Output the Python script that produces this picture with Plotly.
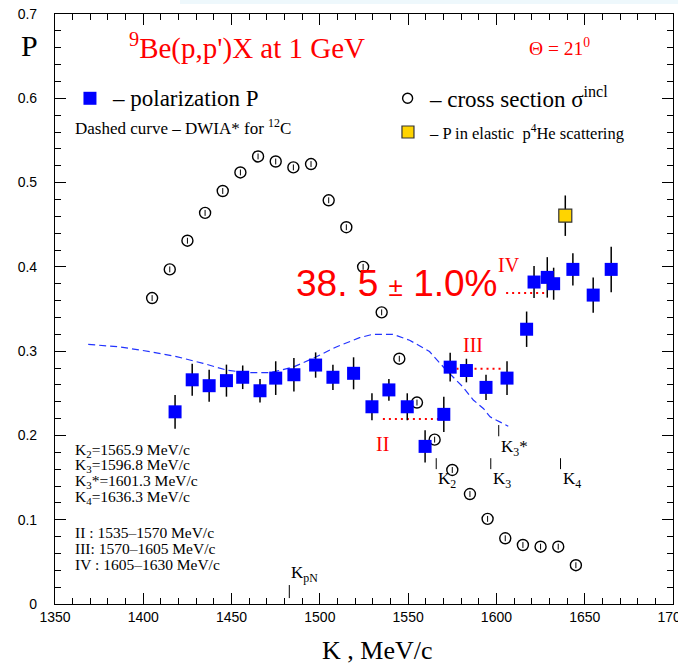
import plotly.graph_objects as go

# ---------------- data ----------------
# polarization P (blue squares)
pol_K = [1418.0, 1427.7, 1437.3, 1447.1, 1456.3, 1466.1, 1475.0, 1485.3, 1497.6, 1507.4,
         1519.1, 1529.5, 1539.1, 1549.5, 1559.6, 1570.2, 1573.8, 1583.0, 1594.1, 1606.0,
         1617.1, 1621.3, 1628.8, 1632.4, 1643.3, 1654.8, 1665.0]
pol_P = [0.228, 0.266, 0.259, 0.265, 0.269, 0.253, 0.268, 0.272, 0.2835, 0.269,
         0.2737, 0.234, 0.254, 0.234, 0.187, 0.225, 0.281, 0.277, 0.257, 0.268,
         0.326, 0.382, 0.3875, 0.380, 0.397, 0.3665, 0.397]
pol_err = [0.020, 0.019, 0.019, 0.019, 0.014, 0.014, 0.020, 0.020, 0.015, 0.015,
           0.019, 0.016, 0.013, 0.016, 0.019, 0.021, 0.017, 0.014, 0.015, 0.020,
           0.021, 0.019, 0.024, 0.019, 0.019, 0.021, 0.027]

# inclusive cross section (open circles, arbitrary units)
cs_K = [1405, 1415, 1425, 1435, 1445, 1455, 1465, 1475, 1485, 1495, 1505, 1515, 1524.5,
        1535, 1545, 1555, 1565, 1575, 1585, 1595, 1605, 1615, 1625, 1635, 1645]
cs_P = [0.363, 0.397, 0.431, 0.464, 0.490, 0.512, 0.531, 0.525, 0.518, 0.522, 0.479, 0.447, 0.400,
        0.346, 0.291, 0.239, 0.195, 0.159, 0.1305, 0.101, 0.078, 0.070, 0.068, 0.068, 0.046]
cs_err = [0.0035] * 25

# P in elastic p-4He scattering
el_K = [1639.0]
el_P = [0.4607]
el_err = [0.024]

# DWIA* for 12C (dashed curve)
dw_K = [1368.8, 1386.8, 1403.7, 1418.8, 1433.9, 1447.0, 1458.4, 1471.6, 1484.8, 1496.1, 1509.3,
        1522.5, 1530.0, 1541.3, 1550.8, 1562.1, 1571.5, 1580.9, 1586.9, 1592.6, 1596.4, 1606.7]
dw_P = [0.308, 0.305, 0.2995, 0.2935, 0.2855, 0.2776, 0.2744, 0.2744, 0.281, 0.2914, 0.305,
        0.316, 0.320, 0.320, 0.313, 0.2995, 0.2776, 0.2578, 0.242, 0.232, 0.222, 0.211]

# momentum regions II, III, IV (red dotted)
reg_names = ["II", "III", "IV"]
reg_K0 = [1535.7, 1570.6, 1605.5]
reg_K1 = [1567.9, 1602.6, 1627.8]
reg_P = [0.2195, 0.279, 0.369]
reg_lab_K = [1535.7, 1586.6, 1607.4]
reg_lab_P = [0.190, 0.307, 0.402]

# characteristic momenta markers
mk_names = ["K<sub>2</sub>", "K<sub>3</sub>", "K<sub>3</sub>*", "K<sub>4</sub>", "K<sub>pN</sub>"]
mk_K = [1565.9, 1596.8, 1601.3, 1636.3, 1482.7]
mk_lo = [0.160, 0.160, 0.199, 0.160, 0.007]
mk_hi = [0.173, 0.173, 0.2123, 0.173, 0.0225]
mk_lab_P = [0.147, 0.147, 0.1847, 0.147, 0.036]

info_lines = ["K<sub>2</sub>=1565.9 MeV/c", "K<sub>3</sub>=1596.8 MeV/c",
              "K<sub>3</sub>*=1601.3 MeV/c", "K<sub>4</sub>=1636.3 MeV/c",
              "II : 1535\u20131570 MeV/c", "III: 1570\u20131605 MeV/c",
              "IV : 1605\u20131630 MeV/c"]
info_P = [0.1827, 0.164, 0.1451, 0.1261, 0.0851, 0.0661, 0.0463]

result_text = "38. 5 <span style='font-size:26px'>\u00b1</span> 1.0%"

# ---------------- figure ----------------
SERIF = "Liberation Serif, Times New Roman, serif"
SANS = "Liberation Sans, Arial, sans-serif"
BLUE = "#0000ff"
RED = "#ff0000"

fig = go.Figure()

# DWIA dashed curve
fig.add_trace(go.Scatter(x=dw_K, y=dw_P, mode="lines",
                         line=dict(color="#2233ff", width=1.2, dash="7px,4px"),
                         hoverinfo="skip"))

# region dotted lines
rx, ry = [], []
for k0, k1, p in zip(reg_K0, reg_K1, reg_P):
    rx += [k0, k1, None]
    ry += [p, p, None]
fig.add_trace(go.Scatter(x=rx, y=ry, mode="lines",
                         line=dict(color=RED, width=2, dash="2px,4px"), hoverinfo="skip"))

# marker ticks
mx, my = [], []
for k, lo, hi in zip(mk_K, mk_lo, mk_hi):
    mx += [k, k, None]
    my += [lo, hi, None]
fig.add_trace(go.Scatter(x=mx, y=my, mode="lines", line=dict(color="black", width=1),
                         hoverinfo="skip"))

# cross section
fig.add_trace(go.Scatter(x=cs_K, y=cs_P, mode="markers",
                         marker=dict(symbol="circle-open", size=11, color="black",
                                     line=dict(width=1.4, color="black")),
                         error_y=dict(type="data", array=cs_err, color="black",
                                      thickness=1, width=0)))

# polarization
fig.add_trace(go.Scatter(x=pol_K, y=pol_P, mode="markers",
                         marker=dict(symbol="square", size=13, color=BLUE, line=dict(width=0)),
                         error_y=dict(type="data", array=pol_err, color="black",
                                      thickness=1.5, width=0)))

# elastic
fig.add_trace(go.Scatter(x=el_K, y=el_P, mode="markers",
                         marker=dict(symbol="square", size=13, color="#ffd400",
                                     line=dict(width=1.2, color="#333333")),
                         error_y=dict(type="data", array=el_err, color="black",
                                      thickness=1.5, width=0)))

ann = []


def A(text, x, y, size, color="black", font=SERIF, xanchor="left", yanchor="middle",
      xref="x", yref="y"):
    ann.append(dict(text=text, x=x, y=y, xref=xref, yref=yref, showarrow=False,
                    xanchor=xanchor, yanchor=yanchor,
                    font=dict(family=font, size=size, color=color)))


# titles
A("<sup>9</sup>Be(p,p')X at 1 GeV", 1390.8, 0.661, 29, RED)
A("\u0398 = 21<sup>0</sup>", 1617.3, 0.661, 19.5, RED)
A("P", -0.042, 0.947, 30, xref="paper", yref="paper", xanchor="center")
A("K , MeV/c", 0.521, -0.078, 26, xref="paper", yref="paper", xanchor="center")

# legend texts
A("\u2013 polarization P", 1381.1, 0.600, 23)
A("Dashed curve \u2013 DWIA* for <sup>12</sup>C", 1360.2, 0.566, 17)
A("\u2013 cross section \u03c3<sup>incl</sup>", 1560.7, 0.601, 23)
A("\u2013 P in elastic  p<sup>4</sup>He scattering", 1560.7, 0.560, 16.5)

# info block
for t, p in zip(info_lines, info_P):
    A(t, 1360.2, p, 15.5)

# region labels
for t, k, p in zip(reg_names, reg_lab_K, reg_lab_P):
    A(t, k, p, 20, RED, xanchor="center")

# marker labels
for t, k, p in zip(mk_names, mk_K, mk_lab_P):
    A(t, k, p, 17, xanchor="left")

# big result
A(result_text, 1485.4, 0.380, 37, RED, font=SANS)

shapes = [
    # light strip at the top of the page
    dict(type="rect", xref="paper", yref="paper", x0=0.2023, x1=1.01, y0=1.017, y1=1.03,
         fillcolor="#eef8fc", line=dict(width=0), layer="below"),
    # legend symbols
    dict(type="rect", xref="x", yref="y", xsizemode="pixel", ysizemode="pixel",
         xanchor=1369.8, yanchor=0.600, x0=-6.5, x1=6.5, y0=-6.5, y1=6.5,
         fillcolor=BLUE, line=dict(width=0)),
    dict(type="circle", xref="x", yref="y", xsizemode="pixel", ysizemode="pixel",
         xanchor=1549.7, yanchor=0.600, x0=-5, x1=5, y0=-5, y1=5,
         line=dict(color="black", width=1.4)),
    dict(type="rect", xref="x", yref="y", xsizemode="pixel", ysizemode="pixel",
         xanchor=1549.9, yanchor=0.560, x0=-6, x1=6, y0=-6, y1=6,
         fillcolor="#ffd400", line=dict(color="#333333", width=1.2)),
]

axis_common = dict(showgrid=False, zeroline=False, showline=True, linecolor="black",
                   linewidth=1.2, mirror="ticks", ticks="inside", ticklen=11,
                   tickcolor="black", tickwidth=1.2, automargin=False,
                   tickfont=dict(family=SANS, size=14, color="black"))

fig.update_layout(
    width=678, height=664,
    margin=dict(l=55, r=5, t=14, b=60),
    paper_bgcolor="white", plot_bgcolor="white",
    showlegend=False,
    annotations=ann, shapes=shapes,
    xaxis=dict(range=[1350, 1700], tick0=1350, dtick=50, ticklabeloverflow="allow",
               minor=dict(dtick=10, ticklen=6, ticks="inside", tickcolor="black", tickwidth=1),
               **axis_common),
    yaxis=dict(range=[0, 0.7], tick0=0, dtick=0.1, ticklabelstandoff=14,
               minor=dict(dtick=0.02, ticklen=6, ticks="inside", tickcolor="black", tickwidth=1),
               **axis_common),
)

fig.write_html("out.html", config={"displayModeBar": False})

# remove the browser's default page margin so the figure sits at the window origin
with open("out.html", "r", encoding="utf-8") as f:
    html = f.read()
html = html.replace("<head>", "<head><style>html,body{margin:0;padding:0;overflow:hidden;}</style>", 1)
with open("out.html", "w", encoding="utf-8") as f:
    f.write(html)
